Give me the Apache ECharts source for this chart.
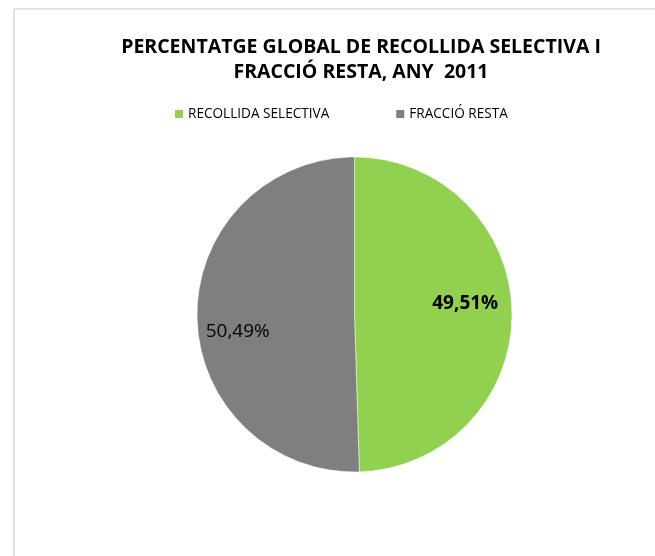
<!DOCTYPE html>
<html>
<head>
<meta charset="utf-8">
<script src="https://cdn.jsdelivr.net/npm/echarts@6/dist/echarts.min.js"></script>
<style>
  html, body { margin: 0; padding: 0; background: #ffffff; }
  #chart { width: 655px; height: 556px; }
</style>
</head>
<body>
<div id="chart"></div>
<script>
const titleText = "PERCENTATGE GLOBAL DE RECOLLIDA SELECTIVA I\nFRACCIÓ RESTA, ANY  2011";
const categories = ["RECOLLIDA SELECTIVA", "FRACCIÓ RESTA"];
const values = [49.51, 50.49];
const colors = ["#92D050", "#7F7F7F"];

const FONT = "'Open Sans', sans-serif";

const chart = echarts.init(document.getElementById('chart'), null, { renderer: 'canvas' });

const labelStyles = [
  { fontWeight: 'bold', offset: [29, -10] },
  { fontWeight: 'normal', offset: [-35, 16] }
];

const data = categories.map((name, i) => ({
  name: name,
  value: values[i],
  itemStyle: { color: colors[i] },
  label: labelStyles[i]
}));

chart.setOption({
  backgroundColor: '#ffffff',
  animation: false,
  title: {
    text: titleText,
    left: 356,
    top: 30,
    textAlign: 'center',
    textStyle: {
      fontFamily: FONT,
      fontSize: 19.5,
      fontWeight: 'bold',
      color: '#000000',
      lineHeight: 25
    }
  },
  legend: {
    data: categories,
    left: 168,
    top: 102,
    itemWidth: 10,
    itemHeight: 10,
    itemGap: 65,
    icon: 'rect',
    textStyle: { fontFamily: FONT, fontSize: 13.6, color: '#000000', padding: [0, 0, 0, -1] },
    selectedMode: false
  },
  graphic: [
    { type: 'line', shape: { x1: 14, y1: 9, x2: 655, y2: 9 }, style: { stroke: '#d9d9d9', lineWidth: 1.5 } },
    { type: 'line', shape: { x1: 14, y1: 9, x2: 14, y2: 556 }, style: { stroke: '#d9d9d9', lineWidth: 1.5 } }
  ],
  series: [{
    type: 'pie',
    center: [354.5, 314.5],
    radius: [0, 157.5],
    startAngle: 90,
    clockwise: true,
    data: data,
    itemStyle: { borderColor: '#ffffff', borderWidth: 0.5 },
    label: {
      show: true,
      position: 'inside',
      formatter: p => p.value.toFixed(2).replace('.', ',') + '%',
      fontFamily: FONT,
      fontSize: 19,
      color: '#000000'
    },
    labelLine: { show: false },
    emphasis: { disabled: true }
  }]
});
</script>
</body>
</html>
